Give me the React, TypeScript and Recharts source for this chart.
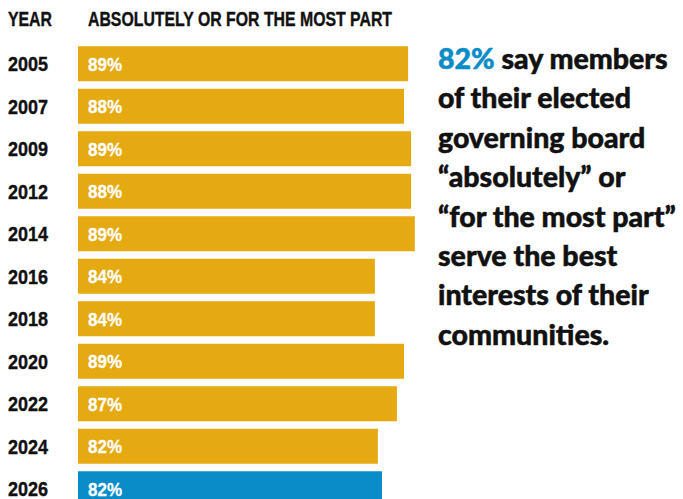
import React from 'react';
import { BarChart, Bar, XAxis, YAxis, Cell, LabelList, Customized } from 'recharts';

const years = ['2005', '2007', '2009', '2012', '2014', '2016', '2018', '2020', '2022', '2024', '2026'];
const shareLabels = ['89%', '88%', '89%', '88%', '89%', '84%', '84%', '89%', '87%', '82%', '82%'];
// bar lengths as drawn in the reference (percent scale)
const barValues = [88.5, 87.4, 89.3, 89.3, 90.3, 79.6, 79.6, 87.4, 85.5, 80.4, 81.5];
const headerYear = 'YEAR';
const headerSeries = 'ABSOLUTELY OR FOR THE MOST PART';
const highlight = '82%';
const noteLines = [
  ' say members',
  'of their elected',
  'governing board',
  '\u201Cabsolutely\u201D or',
  '\u201Cfor the most part\u201D',
  'serve the best',
  'interests of their',
  'communities.',
];

const GOLD = '#E5A912';
const BLUE = '#0A8CC8';
const COND = '"Liberation Sans", Arial, sans-serif';
const GEO = 'Lato, "Noto Sans", sans-serif';

const data = years.map((y, i) => ({ year: y, value: barValues[i], label: shareLabels[i] }));

const YearTick = (props: any) => {
  const { y, payload } = props;
  return (
    <text
      x={8}
      y={y}
      dy="0.36em"
      textAnchor="start"
      fontFamily={COND}
      fontWeight={700}
      fontSize={21}
      fill="#111"
      stroke="#111"
      strokeWidth={0.4}
      textLength={40}
      lengthAdjust="spacingAndGlyphs"
    >
      {payload.value}
    </text>
  );
};

const Overlay = () => (
  <g>
    <text x={8} y={26} fontFamily={COND} fontWeight={700} fontSize={20} fill="#111" stroke="#111" strokeWidth={0.4} textLength={44} lengthAdjust="spacingAndGlyphs">
      {headerYear}
    </text>
    <text x={88} y={26} fontFamily={COND} fontWeight={700} fontSize={20} fill="#111" stroke="#111" strokeWidth={0.4} textLength={304} lengthAdjust="spacingAndGlyphs">
      {headerSeries}
    </text>
    {noteLines.map((line, i) => (
      <text key={i} x={438} y={69 + i * 39.4} fontFamily={GEO} fontWeight={900} fontSize={28.5} fill="#111" stroke="#111" strokeWidth={0.5}>
        {i === 0 ? <tspan fill={BLUE} stroke={BLUE}>{highlight}</tspan> : null}
        {line}
      </text>
    ))}
  </g>
);

export default function App() {
  return (
    <div style={{ position: 'absolute', left: 0, top: 0, width: 683, height: 499, overflow: 'hidden', background: '#fff' }}>
      <BarChart
        width={683}
        height={520}
        data={data}
        layout="vertical"
        margin={{ top: 42.25, right: 232, bottom: 10.25, left: 0 }}
      >
        <XAxis type="number" domain={[0, 100]} hide />
        <YAxis type="category" dataKey="year" width={78} axisLine={false} tickLine={false} tick={<YearTick />} interval={0} />
        <Bar dataKey="value" barSize={35} isAnimationActive={false}>
          {data.map((d, i) => (
            <Cell key={d.year} fill={i === data.length - 1 ? BLUE : GOLD} />
          ))}
          <LabelList
            dataKey="label"
            content={(p: any) => (
              <text
                x={p.x + 10}
                y={p.y + p.height / 2}
                dy="0.36em"
                fontFamily={COND}
                fontWeight={700}
                fontSize={19}
                fill="#fff"
                stroke="#fff"
                strokeWidth={0.3}
                textLength={34}
                lengthAdjust="spacingAndGlyphs"
              >
                {p.value}
              </text>
            )}
          />
        </Bar>
        <Customized component={Overlay} />
      </BarChart>
    </div>
  );
}
